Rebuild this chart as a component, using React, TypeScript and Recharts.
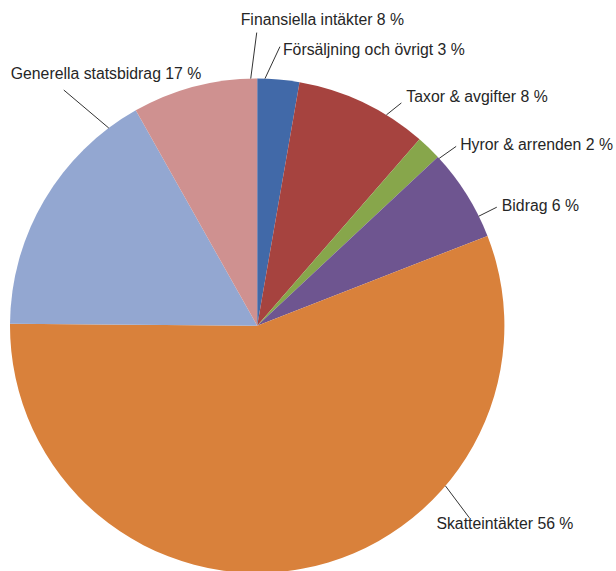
import React from 'react';
import { PieChart, Pie, Cell } from 'recharts';

const names = [
  'Försäljning och övrigt',
  'Taxor & avgifter',
  'Hyror & arrenden',
  'Bidrag',
  'Skatteintäkter',
  'Generella statsbidrag',
  'Finansiella intäkter',
];
const shares = [2.74, 8.66, 1.64, 6.04, 56.04, 16.7, 8.17];
const shownPercents = [3, 8, 2, 6, 56, 17, 8];
const colors = ['#4169A8', '#A6433F', '#87A64B', '#6E5590', '#D9813B', '#93A7D1', '#CF9190'];

const data = names.map((name, i) => ({ name, value: shares[i], shown: shownPercents[i] }));

// label placement: anchor angle on the rim (deg clockwise from top), leader line offset, text offset
const labelLayout = [
  { a: 1.8, ldx: 15, ldy: -32, tdx: 3, tdy: 3 },
  { a: 31.5, ldx: 15, ldy: -12, tdx: 5, tdy: -6 },
  { a: 47.4, ldx: 17, ldy: -12, tdx: 4, tdy: -2 },
  { a: 63.7, ldx: 18, ldy: -9, tdx: 5, tdy: -2 },
  { a: 130.4, ldx: 24, ldy: 32, tdx: -33, tdy: 6 },
  { a: 323.1, ldx: -45, ldy: -38, tdx: -53, tdy: -17 },
  { a: -1.5, ldx: 6, ldy: -46, tdx: -16, tdy: -13 },
];

const renderLabel = (props: any) => {
  const { cx, cy, outerRadius, index } = props;
  const l = labelLayout[index];
  const rad = (l.a * Math.PI) / 180;
  const x0 = cx + outerRadius * Math.sin(rad);
  const y0 = cy - outerRadius * Math.cos(rad);
  const x1 = x0 + l.ldx;
  const y1 = y0 + l.ldy;
  const d = data[index];
  return (
    <g key={`lbl-${index}`}>
      <line x1={x0} y1={y0} x2={x1} y2={y1} stroke="#333" strokeWidth={1} />
      <text
        x={x1 + l.tdx}
        y={y1 + l.tdy}
        textAnchor="start"
        dominantBaseline="central"
        fill="#262626"
        fontSize={15.8}
        fontFamily="'Liberation Sans', Arial, sans-serif"
      >
        {`${d.name} ${d.shown} %`}
      </text>
    </g>
  );
};

export default function App() {
  return (
    <div style={{ position: 'fixed', left: 0, top: 0, width: 616, height: 571, background: '#fff' }}>
      <PieChart width={616} height={571} margin={{ top: 0, right: 0, bottom: 0, left: 0 }}>
        <Pie
          data={data}
          dataKey="value"
          nameKey="name"
          cx={257.2}
          cy={325.7}
          outerRadius={247.2}
          startAngle={90}
          endAngle={-270}
          stroke="none"
          label={renderLabel}
          labelLine={false}
          isAnimationActive={false}
        >
          {data.map((d, i) => (
            <Cell key={d.name} fill={colors[i]} />
          ))}
        </Pie>
      </PieChart>
    </div>
  );
}
